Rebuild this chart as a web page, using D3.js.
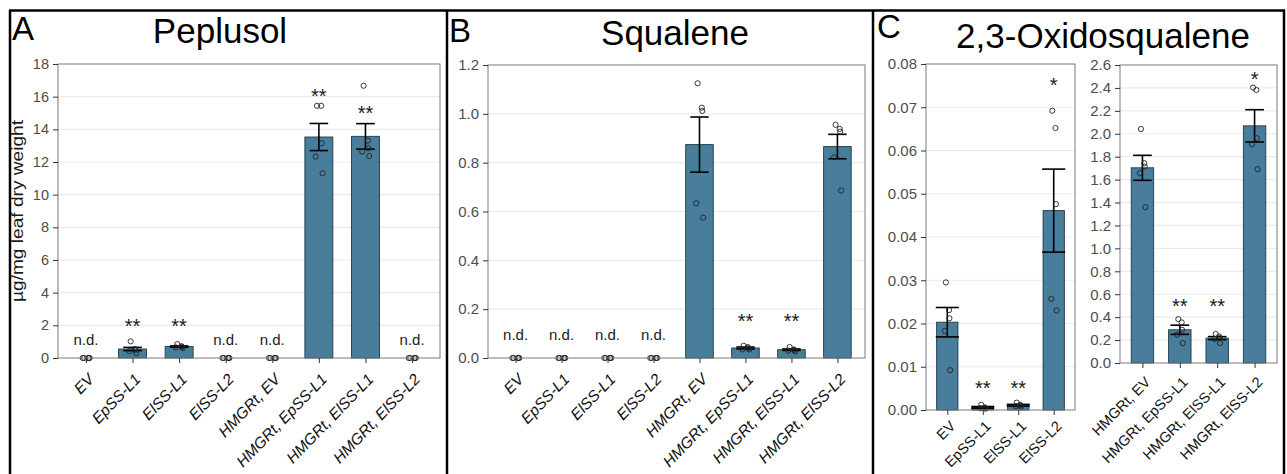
<!DOCTYPE html>
<meta charset="utf-8">
<title>Peplusol, squalene, 2,3-oxidosqualene</title>
<style>
    body { margin: 0; background: #fff; }
    svg text { font-family: "Liberation Sans", Arial, sans-serif; }
</style>

<body>
    <script src="https://d3js.org/d3.v7.min.js"></script>
    <script>
        // ----------------------- data

        var linesAB = ["EV", "EpSS-L1", "ElSS-L1", "ElSS-L2", "HMGRt, EV", "HMGRt, EpSS-L1", "HMGRt, ElSS-L1", "HMGRt, ElSS-L2"];
        var linesC1 = ["EV", "EpSS-L1", "ElSS-L1", "ElSS-L2"];
        var linesC2 = ["HMGRt, EV", "HMGRt, EpSS-L1", "HMGRt, ElSS-L1", "HMGRt, ElSS-L2"];

        // peplusol (A)
        var peplusolTicks = [0, 2, 4, 6, 8, 10, 12, 14, 16, 18];
        var peplusolMean = [0, 0.55, 0.70, 0, 0, 13.53, 13.57, 0];
        var peplusolSE = [0, 0.10, 0.04, 0, 0, 0.83, 0.78, 0];
        var peplusolPts = [
            [0, 0, 0, 0, 0],
            [1.02, 0.55, 0.48, 0.42, 0.30],
            [0.85, 0.72, 0.68, 0.65, 0.62],
            [0, 0, 0, 0, 0],
            [0, 0, 0, 0, 0],
            [15.44, 15.44, 13.15, 12.33, 11.31],
            [16.67, 13.31, 12.84, 12.64, 12.37],
            [0, 0, 0, 0, 0]
        ];
        var peplusolSig = ["n.d.", "**", "**", "n.d.", "n.d.", "**", "**", "n.d."];
        var peplusolSigY = [0.8, 1.56, 1.56, 0.8, 0.8, 15.6, 14.59, 0.8];

        // squalene (B)
        var squaleneTicks = [0, 0.2, 0.4, 0.6, 0.8, 1.0, 1.2];
        var squaleneMean = [0, 0, 0, 0, 0.874, 0.041, 0.034, 0.866];
        var squaleneSE = [0, 0, 0, 0, 0.113, 0.004, 0.003, 0.05];
        var squalenePts = [
            [0, 0, 0, 0, 0],
            [0, 0, 0, 0, 0],
            [0, 0, 0, 0, 0],
            [0, 0, 0, 0, 0],
            [1.125, 1.025, 1.012, 0.634, 0.575],
            [0.050, 0.045, 0.040, 0.035, 0.035],
            [0.045, 0.035, 0.033, 0.030, 0.027],
            [0.955, 0.938, 0.927, 0.822, 0.686]
        ];
        var squaleneSig = ["n.d.", "n.d.", "n.d.", "n.d.", "", "**", "**", ""];
        var squaleneSigY = [0.074, 0.074, 0.074, 0.074, 0, 0.122, 0.122, 0];

        // 2,3-oxidosqualene (C, without HMGRt)
        var oxidoTicks1 = [0, 0.01, 0.02, 0.03, 0.04, 0.05, 0.06, 0.07, 0.08];
        var oxidoMean1 = [0.0203, 0.0006, 0.0011, 0.0461];
        var oxidoSE1 = [0.0034, 0.0002, 0.0002, 0.0096];
        var oxidoPts1 = [
            [0.0295, 0.0231, 0.0212, 0.0183, 0.0092],
            [0.0012, 0.0006, 0.0005, 0.0004, 0.0003],
            [0.0017, 0.0012, 0.0010, 0.0009, 0.0007],
            [0.0692, 0.0652, 0.0476, 0.0257, 0.0230]
        ];
        var oxidoSig1 = ["", "**", "**", "*"];
        var oxidoSigY1 = [0, 0.00351, 0.00351, 0.0736];

        // 2,3-oxidosqualene (C, with HMGRt)
        var oxidoTicks2 = [0, 0.2, 0.4, 0.6, 0.8, 1.0, 1.2, 1.4, 1.6, 1.8, 2.0, 2.2, 2.4, 2.6];
        var oxidoMean2 = [1.703, 0.290, 0.217, 2.069];
        var oxidoSE2 = [0.109, 0.040, 0.013, 0.141];
        var oxidoPts2 = [
            [2.042, 1.743, 1.714, 1.656, 1.360],
            [0.383, 0.354, 0.290, 0.247, 0.174],
            [0.253, 0.232, 0.218, 0.209, 0.174],
            [2.403, 2.382, 1.961, 1.909, 1.691]
        ];
        var oxidoSig2 = ["", "**", "**", "*"];
        var oxidoSigY2 = [0, 0.435, 0.435, 2.42];

        // ----------------------- layout

        var width = 1287,
            height = 474;

        var barFill = "#487d9c",
            barStroke = "#1e3947";

        var jitter = [-0.04, 0.05, 0.06, -0.07, 0.08];

        var svg = d3.select("body").append("svg")
            .attr("width", width)
            .attr("height", height);

        var panels = [
            { cats: linesAB, mean: peplusolMean, se: peplusolSE, pts: peplusolPts, sig: peplusolSig, sigY: peplusolSigY,
              ticks: peplusolTicks, fmt: d3.format("d"), left: 58, right: 440, top: 64, bottom: 358,
              italic: true, cap: 0.4, tickSize: 14.5, labSize: 15.5, labDy: 22, labRot: -46 },
            { cats: linesAB, mean: squaleneMean, se: squaleneSE, pts: squalenePts, sig: squaleneSig, sigY: squaleneSigY,
              ticks: squaleneTicks, fmt: d3.format(".1f"), left: 488, right: 865, top: 65, bottom: 358,
              italic: true, cap: 0.4, tickSize: 15, labSize: 15.5, labDy: 22, labRot: -46 },
            { cats: linesC1, mean: oxidoMean1, se: oxidoSE1, pts: oxidoPts1, sig: oxidoSig1, sigY: oxidoSigY1,
              ticks: oxidoTicks1, fmt: d3.format(".2f"), left: 926, right: 1075, top: 64, bottom: 410,
              italic: false, cap: 0.65, tickSize: 15, labSize: 14.5, labDy: 17, labRot: -45 },
            { cats: linesC2, mean: oxidoMean2, se: oxidoSE2, pts: oxidoPts2, sig: oxidoSig2, sigY: oxidoSigY2,
              ticks: oxidoTicks2, fmt: d3.format(".1f"), left: 1120, right: 1277, top: 65, bottom: 363,
              italic: false, cap: 0.5, tickSize: 15, labSize: 14.5, labDy: 20, labRot: -45 }
        ];

        panels.forEach(drawPanel);

        // frame lines between the three figure parts
        var frame = svg.append("g").attr("stroke", "#000").attr("stroke-width", 2.5);
        frame.append("line").attr("x1", 9).attr("x2", 1285).attr("y1", 10.5).attr("y2", 10.5);
        [10, 447, 873, 1284].forEach(function (fx) {
            frame.append("line").attr("x1", fx).attr("x2", fx).attr("y1", 10).attr("y2", height);
        });

        // titles and letters
        var titles = [
            { letter: "A", lx: 12, ly: 40, title: "Peplusol", tx: 220, ty: 43 },
            { letter: "B", lx: 449, ly: 42, title: "Squalene", tx: 675, ty: 45 },
            { letter: "C", lx: 877, ly: 38, title: "2,3-Oxidosqualene", tx: 1103, ty: 48 }
        ];
        titles.forEach(function (t) {
            svg.append("text").attr("x", t.lx).attr("y", t.ly)
                .style("font-size", "33px").text(t.letter);
            svg.append("text").attr("x", t.tx).attr("y", t.ty)
                .attr("text-anchor", "middle")
                .style("font-size", "35px").text(t.title);
        });

        svg.append("text")
            .attr("transform", "translate(23,211) rotate(-90)")
            .attr("text-anchor", "middle")
            .attr("textLength", 182)
            .attr("lengthAdjust", "spacingAndGlyphs")
            .style("font-size", "17px")
            .attr("fill", "#1a1a1a")
            .text("µg/mg leaf dry weight");

        function drawPanel(p) {
            var x = d3.scalePoint().domain(p.cats).range([p.left, p.right]).padding(0.6);
            var step = x.step();
            var y = d3.scaleLinear().domain([0, p.ticks[p.ticks.length - 1]]).range([p.bottom, p.top]);

            var rows = p.cats.map(function (c, i) {
                return { cat: c, mean: p.mean[i], se: p.se[i], pts: p.pts[i], sig: p.sig[i], sigY: p.sigY[i] };
            });

            var g = svg.append("g");

            g.selectAll(".grid")
                .data(p.ticks.slice(1, -1))
                .join("line")
                .attr("x1", p.left).attr("x2", p.right)
                .attr("y1", function (d) { return y(d); })
                .attr("y2", function (d) { return y(d); })
                .attr("stroke", "#ebebeb")
                .attr("stroke-width", 1.2);

            g.selectAll(".bar")
                .data(rows.filter(function (d) { return d.mean > 0; }))
                .join("rect")
                .attr("x", function (d) { return x(d.cat) - 0.3 * step; })
                .attr("width", 0.6 * step)
                .attr("y", function (d) { return y(d.mean); })
                .attr("height", function (d) { return y(0) - y(d.mean); })
                .attr("fill", barFill)
                .attr("stroke", barStroke)
                .attr("stroke-width", 0.9);

            var eb = g.selectAll(".eb")
                .data(rows.filter(function (d) { return d.se > 0; }))
                .join("g")
                .attr("stroke", "#000")
                .attr("stroke-width", 1.6);
            eb.append("line")
                .attr("x1", function (d) { return x(d.cat); })
                .attr("x2", function (d) { return x(d.cat); })
                .attr("y1", function (d) { return y(d.mean - d.se); })
                .attr("y2", function (d) { return y(d.mean + d.se); });
            [-1, 1].forEach(function (s) {
                eb.append("line")
                    .attr("x1", function (d) { return x(d.cat) - p.cap * step / 2; })
                    .attr("x2", function (d) { return x(d.cat) + p.cap * step / 2; })
                    .attr("y1", function (d) { return y(d.mean + s * d.se); })
                    .attr("y2", function (d) { return y(d.mean + s * d.se); });
            });

            rows.forEach(function (r) {
                g.selectAll(null)
                    .data(r.pts)
                    .join("circle")
                    .attr("cx", function (d, i) { return x(r.cat) + jitter[i] * step; })
                    .attr("cy", function (d) { return y(d); })
                    .attr("r", 2.6)
                    .attr("fill", "none")
                    .attr("stroke", "#222")
                    .attr("stroke-width", 0.9);
            });

            g.append("rect")
                .attr("x", p.left).attr("y", p.top)
                .attr("width", p.right - p.left).attr("height", p.bottom - p.top)
                .attr("fill", "none")
                .attr("stroke", "#7a7a7a")
                .attr("stroke-width", 1);

            var ya = g.append("g")
                .attr("transform", "translate(" + p.left + ",0)")
                .call(d3.axisLeft(y).tickValues(p.ticks).tickFormat(p.fmt).tickSize(5).tickPadding(4));
            ya.select(".domain").remove();
            ya.selectAll("line").attr("stroke", "#333");
            ya.selectAll("text")
                .attr("fill", "#4d4d4d")
                .style("font-size", p.tickSize + "px")
                .style("font-family", "'Liberation Sans', Arial, sans-serif");

            var xa = g.append("g")
                .attr("transform", "translate(0," + p.bottom + ")")
                .call(d3.axisBottom(x).tickSize(5).tickFormat(""));
            xa.select(".domain").remove();
            xa.selectAll("line").attr("stroke", "#333");

            g.selectAll(".xlab")
                .data(p.cats)
                .join("text")
                .attr("transform", function (d) {
                    return "translate(" + (x(d) + 9) + "," + (p.bottom + p.labDy) + ") rotate(" + p.labRot + ")";
                })
                .attr("text-anchor", "end")
                .style("font-size", p.labSize + "px")
                .style("font-style", p.italic ? "italic" : "normal")
                .attr("fill", "#111")
                .text(function (d) { return d; });

            g.selectAll(".sig")
                .data(rows.filter(function (d) { return d.sig; }))
                .join("text")
                .attr("x", function (d) { return x(d.cat); })
                .attr("y", function (d) { return y(d.sigY); })
                .attr("text-anchor", "middle")
                .style("font-size", function (d) { return d.sig === "n.d." ? "15px" : "20px"; })
                .attr("fill", "#1a1a1a")
                .text(function (d) { return d.sig; });
        }
    </script>
</body>
